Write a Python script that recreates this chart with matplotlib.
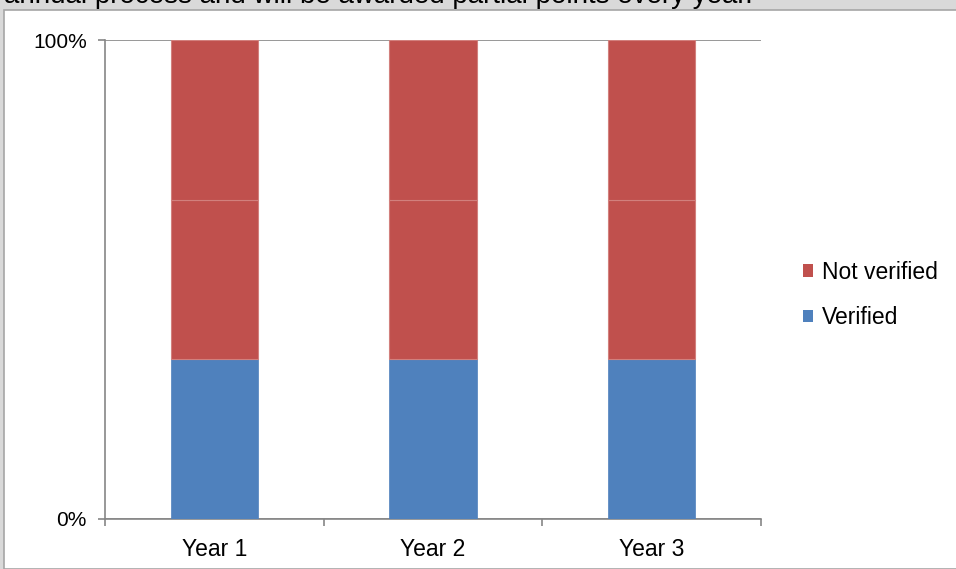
import numpy as np
import matplotlib.pyplot as plt
from matplotlib.patches import Rectangle, Patch

plt.rcParams['font.family'] = ['Liberation Sans', 'DejaVu Sans']

years = ['Year 1', 'Year 2', 'Year 3']
verified = [33.3, 33.3, 33.3]
not_verified_a = [33.3, 33.3, 33.3]
not_verified_b = [33.4, 33.4, 33.4]

blue = '#4F81BD'
red = '#C0504D'
axis_grey = '#868686'

fig = plt.figure(figsize=(9.56, 5.69), dpi=100)
fig.patch.set_facecolor('#D9D9D9')

# white chart area with thin border
fig.patches.append(Rectangle((4 / 956, 0), 1, 1 - 10 / 569, transform=fig.transFigure,
                             facecolor='white', edgecolor='#A6A6A6', linewidth=1.2, zorder=-5))

# last line of the paragraph above the chart
fig.text(4 / 956, 1 - 3 / 569, 'annual process and will be awarded partial points every year.',
         fontsize=20, va='baseline', ha='left', color='black')

ax = fig.add_axes([105 / 956, 1 - 519 / 569, 656 / 956, 479 / 569])
ax.set_facecolor('none')
ax.set_zorder(2)

x = np.arange(len(years))
w = 0.4
ax.bar(x, verified, w, color=blue, edgecolor=blue, linewidth=0.5, zorder=3)
ax.bar(x, not_verified_a, w, bottom=verified, color=red, edgecolor='#D2807D', linewidth=0.8, zorder=3)
bottom2 = np.array(verified) + np.array(not_verified_a)
ax.bar(x, not_verified_b, w, bottom=bottom2, color=red, edgecolor='#D2807D', linewidth=0.8, zorder=3)

ax.set_xlim(-0.5, len(years) - 0.5)
ax.set_ylim(0, 100)
ax.set_yticks([0, 100])
ax.set_yticklabels(['0%', '100%'], fontsize=15)
ax.yaxis.grid(True, color=axis_grey, linewidth=1.2, zorder=0)
ax.set_axisbelow(True)

# category labels centred, tick marks between categories
ax.set_xticks(x)
ax.set_xticklabels(years, fontsize=16.5)
ax.tick_params(axis='x', length=0, pad=14)
ax.set_xticks(np.arange(-0.5, len(years)), minor=True)
ax.tick_params(axis='x', which='minor', length=5, color=axis_grey, width=1.2)
ax.tick_params(axis='y', length=5, color=axis_grey, width=1.2, pad=8)

for side in ['top', 'right']:
    ax.spines[side].set_visible(False)
for side in ['left', 'bottom']:
    ax.spines[side].set_color(axis_grey)
    ax.spines[side].set_linewidth(1.2)

handles = [Patch(facecolor=red, label='Not verified'), Patch(facecolor=blue, label='Verified')]
fig.legend(handles=handles, loc='center left', bbox_to_anchor=(782 / 956, 1 - 295 / 569),
           frameon=False, fontsize=16.5, handlelength=0.45, handleheight=0.45,
           handletextpad=0.4, labelspacing=1.0)

fig.savefig('out.png', dpi=100)
